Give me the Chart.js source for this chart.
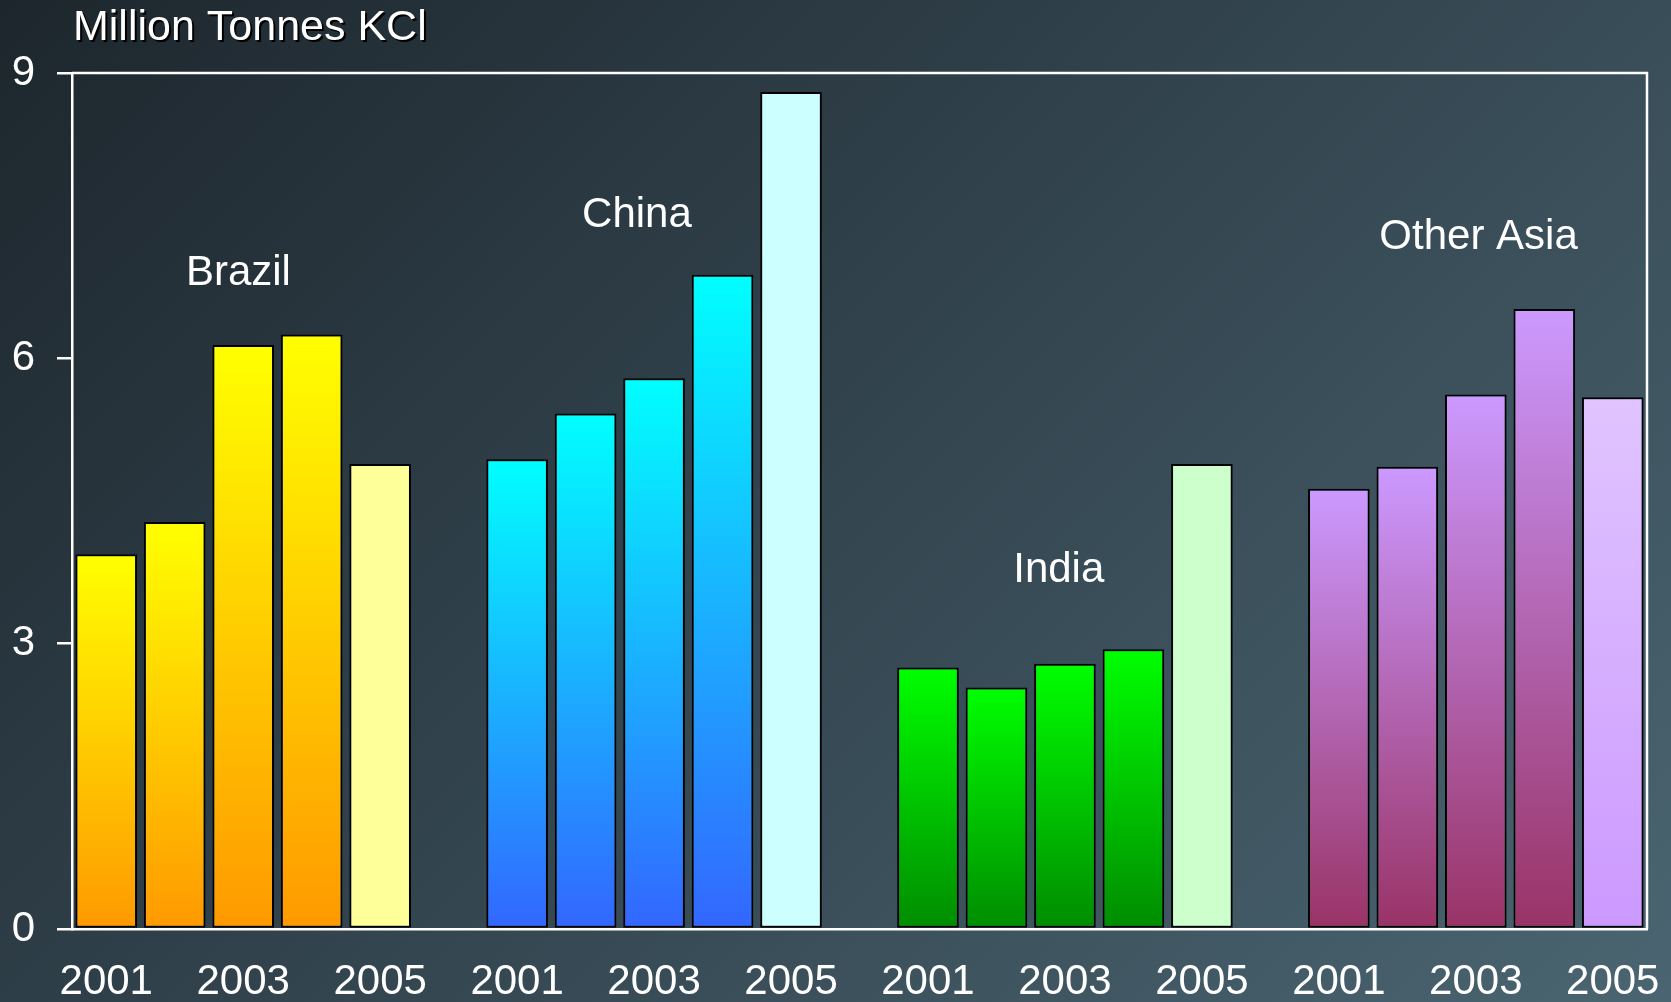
<!DOCTYPE html>
<html>
<head>
<meta charset="utf-8">
<script src="https://cdn.jsdelivr.net/npm/chart.js@4/dist/chart.umd.min.js"></script>
<style>
  html, body { margin: 0; padding: 0; }
  body {
    width: 1671px; height: 1002px; overflow: hidden;
    background: linear-gradient(135deg, #1d262d 0%, #31424c 45%, #4a6571 100%);
  }
  #wrap { position: relative; width: 1671px; height: 1002px; }
</style>
</head>
<body>
<div id="wrap"><canvas id="kcl" width="1671" height="1002"></canvas></div>
<script>
// values, million tonnes KCl, 2001..2005
var years = ['2001', '2002', '2003', '2004', '2005'];
var tickYears = ['2001', '', '2003', '', '2005'];
var groups = ['Brazil', 'China', 'India', 'Other Asia'];
var brazil = [3.94, 4.28, 6.14, 6.25, 4.89];
var china = [4.94, 5.42, 5.79, 6.88, 8.80];
var india = [2.75, 2.54, 2.79, 2.94, 4.89];
var otherAsia = [4.63, 4.86, 5.62, 6.52, 5.59];
var yTicks = [0, 3, 6, 9];

// label anchors (category index, value) for the group names
var groupLabelIdx = [1.93, 7.75, 13.91, 20.04];
var groupLabelVal = [6.89, 7.50, 3.77, 7.27];

// gradient colours per group: [top, bottom] for 2001-2004, and for 2005
var gradTop = ['#ffff00', '#00ffff', '#00ff00', '#cc99ff'];
var gradBottom = ['#ff9900', '#3366ff', '#008c00', '#993366'];
var lastTop = ['#ffff99', '#ccffff', '#ccffcc', '#e0c4ff'];
var lastBottom = ['#ffff99', '#ccffff', '#ccffcc', '#cc99ff'];

// flatten into one category axis with an empty slot between groups
var labels = [], values = [], groupOf = [], yearOf = [];
[brazil, china, india, otherAsia].forEach(function (series, g) {
  if (g > 0) { labels.push(''); values.push(null); groupOf.push(-1); yearOf.push(-1); }
  series.forEach(function (v, i) {
    labels.push(tickYears[i]);
    values.push(v);
    groupOf.push(g);
    yearOf.push(i);
  });
});

function barFill(context) {
  var chart = context.chart;
  var i = context.dataIndex;
  var g = groupOf[i];
  if (g < 0) return 'rgba(0,0,0,0)';
  var last = yearOf[i] === years.length - 1;
  var top = last ? lastTop[g] : gradTop[g];
  var bottom = last ? lastBottom[g] : gradBottom[g];
  if (!chart.chartArea || !chart.scales.y) return top;
  var y = chart.scales.y;
  var yTop = y.getPixelForValue(values[i]);
  var yBot = y.getPixelForValue(0);
  var grad = chart.ctx.createLinearGradient(0, yTop, 0, yBot);
  grad.addColorStop(0, top);
  grad.addColorStop(1, bottom);
  return grad;
}

var textFont = '"Liberation Sans", Arial, sans-serif';

var frameAndText = {
  id: 'frameAndText',
  afterDraw: function (chart) {
    var c = chart.ctx, a = chart.chartArea;
    var xs = chart.scales.x, ys = chart.scales.y;
    c.save();
    // top and right edge of the plot box
    c.strokeStyle = '#ffffff';
    c.lineWidth = 2.5;
    c.beginPath();
    c.moveTo(a.left, a.top);
    c.lineTo(a.right, a.top);
    c.lineTo(a.right, a.bottom);
    c.stroke();

    // unit title with drop shadow
    c.font = '43px ' + textFont;
    c.textBaseline = 'middle';
    c.textAlign = 'left';
    c.fillStyle = '#000000';
    c.fillText('Million Tonnes KCl', a.left + 3, 30);
    c.fillStyle = '#ffffff';
    c.fillText('Million Tonnes KCl', a.left + 1, 28);

    // group names
    c.font = '42px ' + textFont;
    c.textAlign = 'center';
    groups.forEach(function (name, g) {
      c.fillText(name, xs.getPixelForValue(groupLabelIdx[g]), ys.getPixelForValue(groupLabelVal[g]));
    });
    c.restore();
  }
};

new Chart(document.getElementById('kcl').getContext('2d'), {
  type: 'bar',
  data: {
    labels: labels,
    datasets: [{
      data: values,
      backgroundColor: barFill,
      borderColor: '#000000',
      borderWidth: 2,
      borderSkipped: false,
      categoryPercentage: 1,
      barPercentage: 0.9
    }]
  },
  options: {
    responsive: false,
    animation: false,
    layout: { padding: { top: 73, right: 24, left: 0, bottom: 0 } },
    plugins: { legend: { display: false }, tooltip: { enabled: false } },
    scales: {
      x: {
        offset: true,
        grid: { display: false, drawTicks: false },
        border: { display: true, color: '#ffffff', width: 2.5 },
        ticks: {
          autoSkip: false, maxRotation: 0, minRotation: 0,
          color: '#ffffff', padding: 28,
          font: { family: textFont, size: 42 }
        },
        afterFit: function (scale) {
          scale.height = 73;
          scale.paddingLeft = 0;
          scale.paddingRight = 0;
        }
      },
      y: {
        min: 0, max: 9,
        afterBuildTicks: function (scale) {
          scale.ticks = yTicks.map(function (v) { return { value: v }; });
        },
        grid: {
          drawOnChartArea: false, drawTicks: true, tickLength: 15,
          color: '#ffffff', lineWidth: 2.5
        },
        border: { display: true, color: '#ffffff', width: 2.5 },
        ticks: {
          color: '#ffffff', padding: 22,
          font: { family: textFont, size: 42 }
        },
        afterFit: function (scale) {
          scale.width = 72;
          scale.paddingTop = 0;
          scale.paddingBottom = 0;
        }
      }
    }
  },
  plugins: [frameAndText]
});
</script>
</body>
</html>
